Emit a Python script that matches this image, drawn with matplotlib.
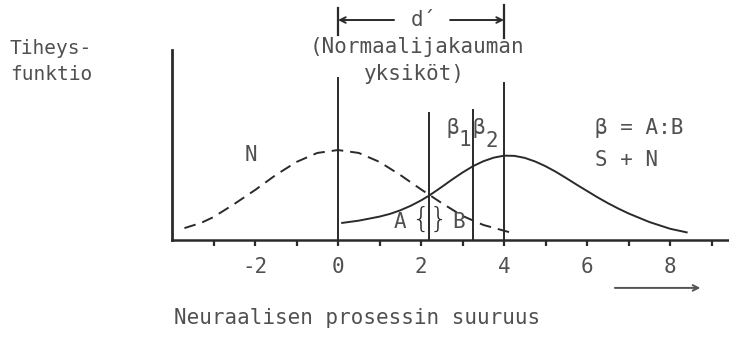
import matplotlib
matplotlib.use("Agg")
import matplotlib.pyplot as plt

# noise distribution N (dashed) and signal+noise S + N (solid)
n_x = [-3.7, -3.3, -3.0, -2.5, -2.0, -1.5, -1.0, -0.5, 0.0, 0.5, 1.0, 1.5, 2.0, 2.5, 3.0, 3.5, 4.2]
n_y = [0.053, 0.076, 0.102, 0.160, 0.222, 0.289, 0.347, 0.387, 0.400, 0.387, 0.347, 0.289, 0.225, 0.164, 0.107, 0.067, 0.031]

sn_x = [0.1, 0.5, 1.0, 1.25, 1.5, 1.75, 2.0, 2.2, 2.5, 2.75, 3.0, 3.25, 3.5, 3.75, 4.0, 4.25, 4.5,
        4.75, 5.0, 5.25, 5.5, 5.75, 6.0, 6.25, 6.5, 6.75, 7.0, 7.5, 8.0, 8.4]
sn_y = [0.076, 0.086, 0.104, 0.116, 0.132, 0.152, 0.176, 0.198, 0.236, 0.269, 0.300, 0.328, 0.350, 0.366, 0.375,
        0.374, 0.365, 0.349, 0.328, 0.303, 0.275, 0.246, 0.218, 0.190, 0.164, 0.140, 0.118, 0.080, 0.050, 0.034]

# vertical markers: noise mean, criterion, beta_1, signal mean
mean_n = 0.0
criterion = 2.2
beta1 = 3.25
mean_sn = 4.0

tick_pos = list(range(-3, 10))
tick_labels = ["", "-2", "", "0", "", "2", "", "4", "", "6", "", "8", ""]

ink = "#2a2a2a"
txt = "#505050"
mono = "DejaVu Sans Mono"

fig = plt.figure(figsize=(7.29, 3.37), dpi=100)
ax = fig.add_axes([172 / 729, 97 / 337, 557 / 729, 240 / 337])
ax.set_xlim(-4, 9.42)
ax.set_ylim(0, 1.067)

ax.plot(n_x, n_y, color=ink, lw=1.4, dashes=(6, 3.6))
ax.plot(sn_x, sn_y, color=ink, lw=1.4)

# vertical lines up from the axis
ax.plot([mean_n, mean_n], [0, 0.72], color=ink, lw=1.4)
ax.plot([mean_sn, mean_sn], [0, 0.698], color=ink, lw=1.4)
ax.plot([criterion, criterion], [0, 0.564], color=ink, lw=1.4)
ax.plot([beta1, beta1], [0, 0.578], color=ink, lw=1.4)

# d' bracket at the top
ax.plot([mean_n, mean_n], [0.911, 1.031], color=ink, lw=1.6, clip_on=False)
ax.plot([mean_sn, mean_sn], [0.898, 1.044], color=ink, lw=1.6, clip_on=False)
ax.annotate("", xy=(mean_n, 0.978), xytext=(1.35, 0.978),
            arrowprops=dict(arrowstyle="->", color=ink, lw=1.4, shrinkA=0, shrinkB=0))
ax.annotate("", xy=(mean_sn, 0.978), xytext=(2.7, 0.978),
            arrowprops=dict(arrowstyle="->", color=ink, lw=1.4, shrinkA=0, shrinkB=0))
ax.text(2.05, 0.978, "d´", family=mono, fontsize=15, color=txt, ha="center", va="center")
ax.text(1.9, 0.86, "(Normaalijakauman", family=mono, fontsize=15, color=txt, ha="center", va="center")
ax.text(1.85, 0.74, "yksiköt)", family=mono, fontsize=15, color=txt, ha="center", va="center")

# labels in the plot
ax.text(-2.1, 0.378, "N", family=mono, fontsize=15, color=txt, ha="center", va="center")
ax.text(2.77, 0.498, "β", family=mono, fontsize=15, color=txt, ha="center", va="center")
ax.text(3.05, 0.445, "1", family=mono, fontsize=15, color=txt, ha="center", va="center")
ax.text(3.4, 0.498, "β", family=mono, fontsize=15, color=txt, ha="center", va="center")
ax.text(3.7, 0.440, "2", family=mono, fontsize=15, color=txt, ha="center", va="center")
ax.text(6.2, 0.498, "β = A:B", family=mono, fontsize=15, color=txt, ha="left", va="center")
ax.text(6.2, 0.356, "S + N", family=mono, fontsize=15, color=txt, ha="left", va="center")
ax.text(1.5, 0.08, "A", family=mono, fontsize=15, color=txt, ha="center", va="center")
ax.text(2.9, 0.08, "B", family=mono, fontsize=15, color=txt, ha="center", va="center")
# braces marking the two areas A and B at the criterion
ax.text(criterion, 0.09, "{}", family="DejaVu Sans", fontweight="light", fontsize=21, color=ink,
        ha="center", va="center")

# arrow under the axis pointing to larger values
ax.annotate("", xy=(8.73, -0.213), xytext=(6.67, -0.213), annotation_clip=False,
            arrowprops=dict(arrowstyle="->", color="#555555", lw=1.4, shrinkA=0, shrinkB=0))

for side in ["top", "right"]:
    ax.spines[side].set_visible(False)
ax.spines["left"].set_bounds(0, 0.844)
ax.spines["left"].set_linewidth(2.0)
ax.spines["bottom"].set_linewidth(1.8)
ax.spines["left"].set_color(ink)
ax.spines["bottom"].set_color(ink)
ax.set_yticks([])
ax.set_xticks(tick_pos)
ax.set_xticklabels(tick_labels, family=mono, fontsize=15, color=txt)
ax.tick_params(axis="x", direction="out", length=4, width=1.6, color=ink, pad=8)

fig.text(10 / 729, 1 - 48 / 337, "Tiheys-", family=mono, fontsize=14, color=txt, ha="left", va="center")
fig.text(10 / 729, 1 - 75 / 337, "funktio", family=mono, fontsize=14, color=txt, ha="left", va="center")
fig.text(357 / 729, 1 - 318 / 337, "Neuraalisen prosessin suuruus", family=mono, fontsize=15,
         color=txt, ha="center", va="center")

fig.savefig("out.png", dpi=100)
